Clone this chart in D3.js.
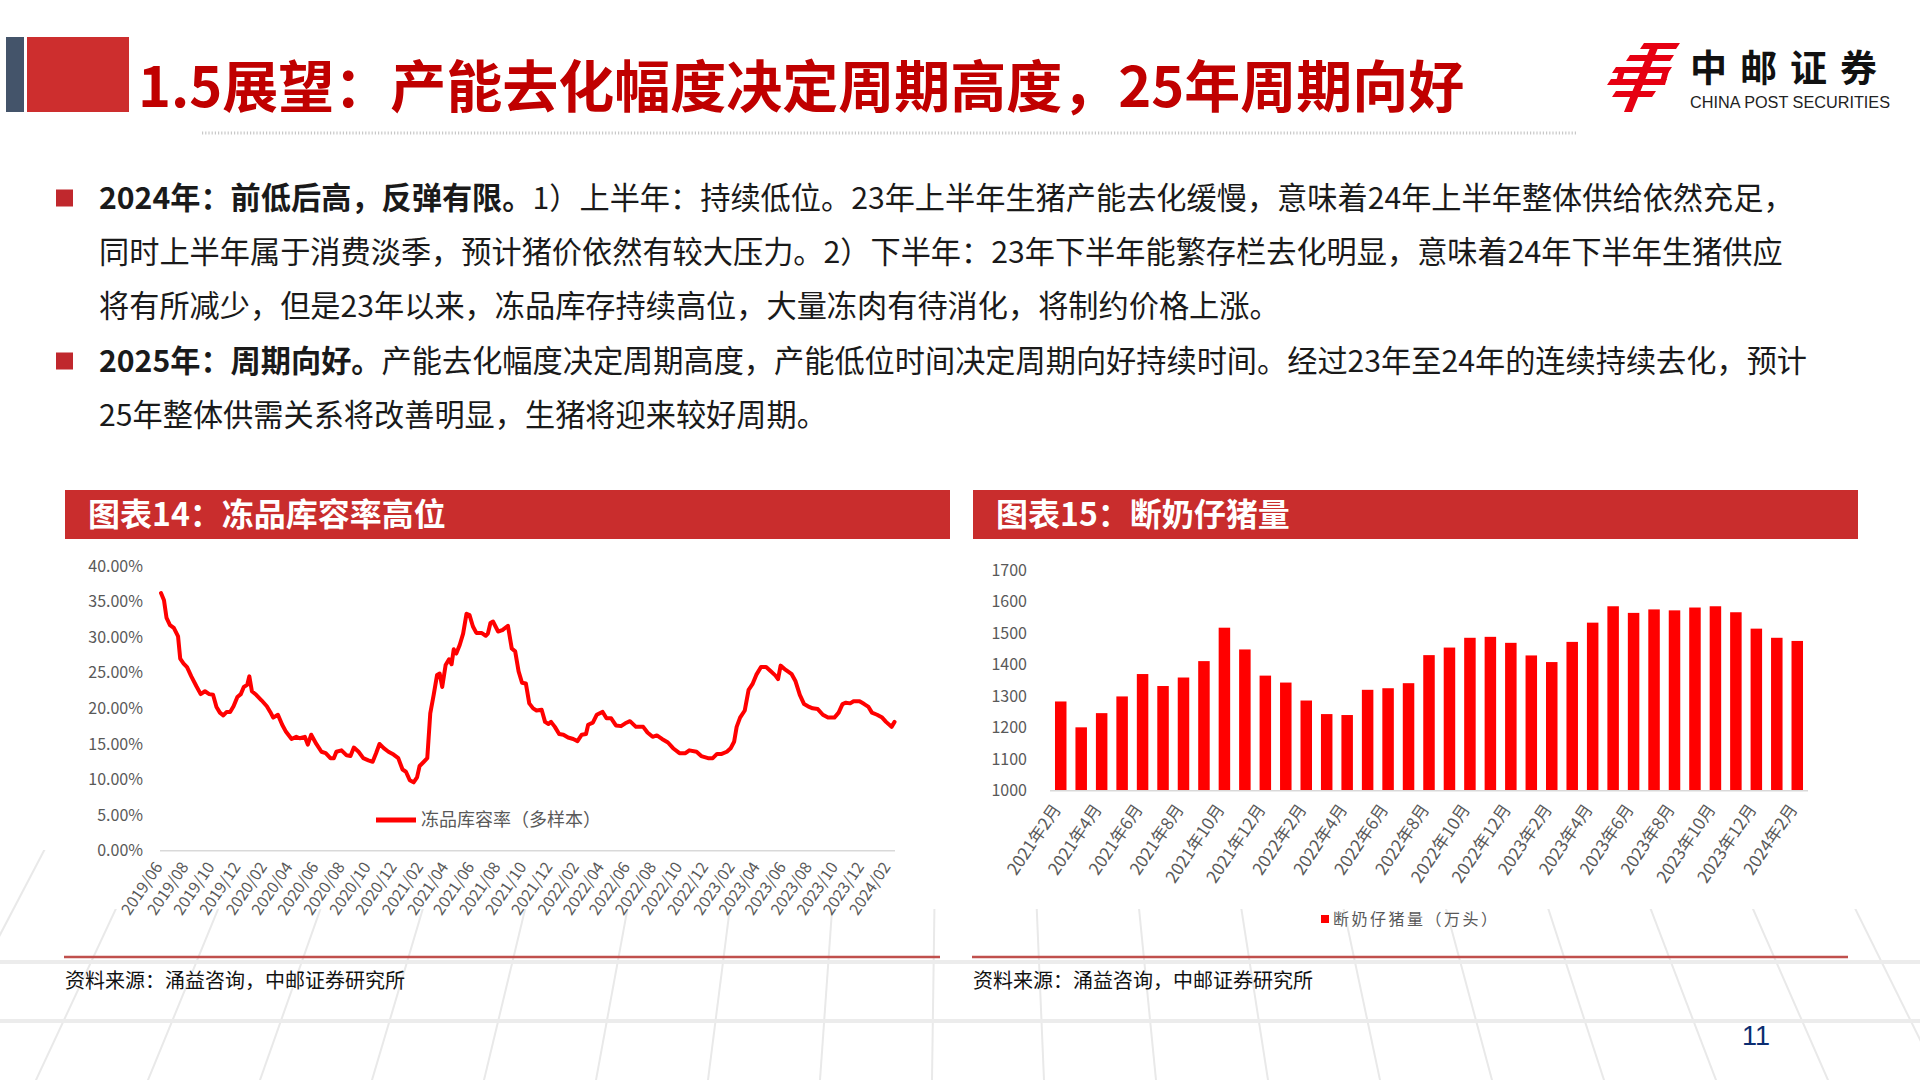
<!DOCTYPE html>
<html><head><meta charset="utf-8">
<script src="https://cdn.jsdelivr.net/npm/d3@7"></script>
<style>
html,body{margin:0;padding:0;background:#fff;}
svg{display:block;font-family:"Noto Sans CJK SC","Noto Sans",sans-serif;}
</style></head>
<body>
<svg id="c" width="1920" height="1080"></svg>
<script>
// ---------------- DATA ----------------
const pageTitle = "1.5展望：产能去化幅度决定周期高度，25年周期向好";
const bodyLines = [
  [["2024年：前低后高，反弹有限。", true], ["1）上半年：持续低位。23年上半年生猪产能去化缓慢，意味着24年上半年整体供给依然充足，", false]],
  [["同时上半年属于消费淡季，预计猪价依然有较大压力。2）下半年：23年下半年能繁存栏去化明显，意味着24年下半年生猪供应", false]],
  [["将有所减少，但是23年以来，冻品库存持续高位，大量冻肉有待消化，将制约价格上涨。", false]],
  [["2025年：周期向好。", true], ["产能去化幅度决定周期高度，产能低位时间决定周期向好持续时间。经过23年至24年的连续持续去化，预计", false]],
  [["25年整体供需关系将改善明显，生猪将迎来较好周期。", false]]
];
const bulletLines = [0, 3];

const chart1Title = "图表14：冻品库容率高位";
const chart1Legend = "冻品库容率（多样本）";
const lineDates = ["2019-06-01","2019-06-08","2019-06-14","2019-06-22","2019-07-01","2019-07-11","2019-07-16","2019-07-24","2019-08-01","2019-08-11","2019-08-23","2019-09-02","2019-09-12","2019-09-22","2019-10-01","2019-10-09","2019-10-17","2019-10-25","2019-11-02","2019-11-10","2019-11-18","2019-11-27","2019-12-05","2019-12-12","2019-12-20","2019-12-25","2019-12-31","2020-01-10","2020-01-23","2020-02-04","2020-02-12","2020-02-19","2020-03-01","2020-03-11","2020-03-20","2020-04-02","2020-04-13","2020-04-21","2020-05-03","2020-05-10","2020-05-18","2020-05-30","2020-06-11","2020-06-21","2020-07-02","2020-07-10","2020-07-16","2020-07-28","2020-08-09","2020-08-18","2020-08-26","2020-09-06","2020-09-17","2020-09-29","2020-10-09","2020-10-17","2020-10-25","2020-11-04","2020-11-15","2020-11-27","2020-12-08","2020-12-18","2020-12-26","2021-01-04","2021-01-13","2021-01-21","2021-01-27","2021-02-06","2021-02-14","2021-02-21","2021-03-01","2021-03-09","2021-03-15","2021-03-21","2021-03-29","2021-04-06","2021-04-12","2021-04-17","2021-04-23","2021-05-01","2021-05-09","2021-05-17","2021-05-24","2021-06-01","2021-06-09","2021-06-21","2021-07-01","2021-07-06","2021-07-12","2021-07-18","2021-07-30","2021-08-09","2021-08-22","2021-08-31","2021-09-08","2021-09-16","2021-09-24","2021-10-03","2021-10-11","2021-10-20","2021-10-28","2021-11-09","2021-11-17","2021-11-25","2021-12-01","2021-12-10","2021-12-20","2021-12-30","2022-01-10","2022-01-22","2022-02-01","2022-02-11","2022-02-21","2022-02-26","2022-03-09","2022-03-18","2022-04-01","2022-04-10","2022-04-21","2022-05-02","2022-05-14","2022-05-24","2022-06-04","2022-06-18","2022-07-05","2022-07-15","2022-07-27","2022-08-06","2022-08-18","2022-09-01","2022-09-13","2022-09-28","2022-10-12","2022-10-21","2022-11-07","2022-11-18","2022-12-04","2022-12-15","2022-12-25","2023-01-05","2023-01-17","2023-01-26","2023-02-03","2023-02-09","2023-02-17","2023-02-28","2023-03-09","2023-03-18","2023-03-27","2023-04-07","2023-04-19","2023-04-30","2023-05-11","2023-05-17","2023-05-23","2023-06-04","2023-06-18","2023-06-27","2023-07-07","2023-07-17","2023-07-29","2023-08-06","2023-08-18","2023-08-30","2023-09-11","2023-09-26","2023-10-06","2023-10-15","2023-10-23","2023-11-02","2023-11-10","2023-11-24","2023-12-05","2023-12-15","2023-12-23","2024-01-04","2024-01-16","2024-01-25","2024-02-07","2024-02-14"];
const lineValues = [36.2,35.2,32.7,31.7,31.3,30.1,27.0,26.3,25.8,24.5,23.1,22.0,22.4,22.0,21.9,20.2,19.4,19.0,19.5,19.5,20.3,21.6,22.0,23.0,23.3,24.5,22.4,21.9,21.1,20.3,19.5,18.7,19.1,17.7,16.7,15.7,16.0,15.8,16.0,14.9,16.3,15.0,13.9,13.7,13.0,13.0,13.9,14.1,13.4,13.3,14.5,13.9,13.0,12.7,12.5,13.7,15.0,14.4,13.9,13.5,13.0,11.4,11.1,9.9,9.6,10.3,11.9,12.5,13.0,19.3,21.9,24.7,24.9,23.0,26.1,26.9,26.2,28.3,27.7,28.9,30.5,33.3,33.1,31.5,30.6,30.6,30.2,30.5,32.0,32.2,30.8,31.0,31.6,28.4,28.0,25.2,23.6,23.5,20.7,20.0,19.7,19.8,18.1,17.8,18.1,17.4,16.4,16.3,15.9,15.7,15.4,16.3,16.4,17.7,18.0,19.1,19.5,18.6,18.6,17.6,17.5,17.9,18.2,17.4,17.4,16.6,16.0,16.2,15.7,15.2,14.4,13.7,13.7,14.1,13.9,13.3,13.0,13.0,13.6,13.6,13.9,14.4,15.3,17.4,18.7,19.7,22.6,23.4,24.7,25.8,25.8,25.2,24.6,24.1,26.0,25.4,24.8,23.8,21.9,20.6,20.2,20.0,19.9,19.1,18.7,18.7,19.4,20.6,20.8,20.7,21.0,21.0,20.6,20.2,19.4,19.1,18.7,18.1,17.4,18.1];
const line1YTicks = [0,5,10,15,20,25,30,35,40];
const line1XTickMonths = ["2019-06","2019-08","2019-10","2019-12","2020-02","2020-04","2020-06","2020-08","2020-10","2020-12","2021-02","2021-04","2021-06","2021-08","2021-10","2021-12","2022-02","2022-04","2022-06","2022-08","2022-10","2022-12","2023-02","2023-04","2023-06","2023-08","2023-10","2023-12","2024-02"];

const chart2Title = "图表15：断奶仔猪量";
const chart2Legend = "断奶仔猪量（万头）";
const barMonths = ["2021年2月","2021年3月","2021年4月","2021年5月","2021年6月","2021年7月","2021年8月","2021年9月","2021年10月","2021年11月","2021年12月","2022年1月","2022年2月","2022年3月","2022年4月","2022年5月","2022年6月","2022年7月","2022年8月","2022年9月","2022年10月","2022年11月","2022年12月","2023年1月","2023年2月","2023年3月","2023年4月","2023年5月","2023年6月","2023年7月","2023年8月","2023年9月","2023年10月","2023年11月","2023年12月","2024年1月","2024年2月"];
const barValues = [1283,1201,1246,1299,1370,1332,1359,1411,1517,1448,1365,1343,1286,1243,1240,1320,1325,1341,1430,1454,1485,1488,1469,1429,1408,1472,1533,1585,1564,1575,1572,1581,1585,1566,1514,1485,1475];
const bar2YTicks = [1000,1100,1200,1300,1400,1500,1600,1700];

const sourceText = "资料来源：涌益咨询，中邮证券研究所";
const pageNumber = "11";

// ---------------- DRAW ----------------
const svg = d3.select("#c");
svg.append("rect").attr("width",1920).attr("height",1080).attr("fill","#fff");

// background perspective grid
const bg = svg.append("g");
bg.append("clipPath").attr("id","bgclip").append("rect").attr("x",0).attr("y",850).attr("width",1920).attr("height",230);
const bgl = bg.append("g").attr("clip-path","url(#bgclip)");
const vp = [960,-900];
d3.range(-8, 27).forEach(i => {
  const bx = -300 + i*112;
  bgl.append("line").attr("x1",vp[0]).attr("y1",vp[1]).attr("x2",bx + (bx-vp[0])*0.3).attr("y2",1080 + (1080-vp[1])*0.3)
    .attr("stroke","#E9E9E9").attr("stroke-width",2);
});
[962,1021].forEach(y => bgl.append("line").attr("x1",0).attr("x2",1920).attr("y1",y).attr("y2",y).attr("stroke","#ECECEC").attr("stroke-width",4));

// header
svg.append("rect").attr("x",6).attr("y",37).attr("width",18).attr("height",75).attr("fill","#44546A");
svg.append("rect").attr("x",27).attr("y",37).attr("width",102).attr("height",75).attr("fill","#CD2E2E");
svg.append("text").attr("x",138).attr("y",107).attr("font-size",56).attr("font-weight",700).attr("fill","#C00000").text(pageTitle);
svg.append("line").attr("x1",202).attr("x2",1577).attr("y1",133).attr("y2",133).attr("stroke","#C8C8C8").attr("stroke-width",3).attr("stroke-dasharray","1.2,2");

// logo
const logo = svg.append("g").attr("fill","#E60012");
const bars = [[1640,43,36,6],[1626,55,44,6],[1612,67,56,6],[1607,79,56,6],[1612,91,40,6]];
bars.forEach(([x,y,w,h]) => {
  logo.append("path").attr("d",`M${x+4},${y} L${x+w+4},${y} L${x+w},${y+h} L${x},${y+h} Z`);
});
logo.append("path").attr("d","M1652,43 L1660,43 L1632,112 L1624,112 Z");
logo.append("path").attr("d","M1620,67 L1626,67 L1621,85 L1615,85 Z");
logo.append("path").attr("d","M1664,67 L1670,67 L1665,85 L1659,85 Z");
svg.append("text").attr("x",1690).attr("y",82).attr("font-size",37).attr("font-weight",700).attr("fill","#111").attr("letter-spacing",13).text("中邮证券");
svg.append("text").attr("x",1690).attr("y",108).attr("font-size",16).attr("fill","#222").attr("font-family","Liberation Sans, Arial, sans-serif")
  .attr("textLength",200).attr("lengthAdjust","spacingAndGlyphs").text("CHINA POST SECURITIES");

// body text
const lineCenters = [198,252,306,361,415];
bulletLines.forEach(i => svg.append("rect").attr("x",56).attr("y",lineCenters[i]-8.5).attr("width",17).attr("height",17).attr("fill","#C0282D"));
bodyLines.forEach((segs,i) => {
  const t = svg.append("text").attr("x",99).attr("y",lineCenters[i]+11).attr("font-size",30.2).attr("fill","#1a1a1a");
  segs.forEach(([s,b]) => t.append("tspan").attr("font-weight", b?700:400).text(s));
});

// chart panels
function panel(x0, title) {
  svg.append("rect").attr("x",x0).attr("y",539).attr("width",885).attr("height",370).attr("fill","#fff");
  svg.append("rect").attr("x",x0).attr("y",490).attr("width",885).attr("height",49).attr("fill","#C92D2D");
  svg.append("text").attr("x",x0+23).attr("y",526).attr("font-size",32).attr("font-weight",700).attr("fill","#fff").text(title);
  svg.append("line").attr("x1",x0-1).attr("x2",x0+875).attr("y1",957).attr("y2",957).attr("stroke","#C0504D").attr("stroke-width",2.5);
  svg.append("text").attr("x",x0).attr("y",988).attr("font-size",20).attr("fill","#111").text(sourceText);
}
panel(65, chart1Title);
panel(973, chart2Title);

// ---- chart 1: line ----
const parse = d3.timeParse("%Y-%m-%d");
const lineData = lineDates.map((d,i) => ({date: parse(d), value: lineValues[i]}));
const x1 = d3.scaleTime().domain([parse("2019-06-01"), parse("2024-02-01")]).range([161, 889]);
const y1 = d3.scaleLinear().domain([0,40]).range([850.7, 566]);
const g1 = svg.append("g");
const yAx1 = g1.append("g").attr("transform","translate(151,0)")
  .call(d3.axisLeft(y1).tickValues(line1YTicks).tickSize(0).tickPadding(8).tickFormat(d => d.toFixed(2)+"%"));
yAx1.select(".domain").remove();
yAx1.selectAll("text").attr("font-size",16).attr("fill","#595959").attr("font-family","Noto Sans CJK SC, sans-serif");
const tickDates1 = line1XTickMonths.map(m => parse(m+"-01"));
const xAx1 = g1.append("g").attr("transform","translate(0,850.7)")
  .call(d3.axisBottom(x1).tickValues(tickDates1).tickSize(0).tickFormat(d3.timeFormat("%Y/%m")));
xAx1.select(".domain").remove();
xAx1.selectAll("text").attr("font-size",16).attr("fill","#595959").attr("font-family","Noto Sans CJK SC, sans-serif")
  .attr("text-anchor","end").attr("x",0).attr("y",0).attr("dy","0.35em").attr("transform","translate(-3,13) rotate(-56)");
g1.append("line").attr("x1",160).attr("x2",895).attr("y1",850.7).attr("y2",850.7).attr("stroke","#D9D9D9").attr("stroke-width",1.5);
g1.append("path").datum(lineData).attr("fill","none").attr("stroke","#FF0000").attr("stroke-width",4).attr("stroke-linejoin","round").attr("stroke-linecap","round")
  .attr("d", d3.line().x(d => x1(d.date)).y(d => y1(d.value)));
g1.append("line").attr("x1",376).attr("x2",416).attr("y1",820).attr("y2",820).attr("stroke","#FF0000").attr("stroke-width",5);
g1.append("text").attr("x",421).attr("y",820).attr("dy","0.35em").attr("font-size",18).attr("fill","#595959").text(chart1Legend);

// ---- chart 2: bars ----
const x2 = d3.scaleBand().domain(barMonths).range([1050,1808]).paddingInner(0.438).paddingOuter(0.244);
const y2 = d3.scaleLinear().domain([1000,1700]).range([790.7, 570]);
const g2 = svg.append("g");
const yAx2 = g2.append("g").attr("transform","translate(1035,0)")
  .call(d3.axisLeft(y2).tickValues(bar2YTicks).tickSize(0).tickPadding(8).tickFormat(d3.format("d")));
yAx2.select(".domain").remove();
yAx2.selectAll("text").attr("font-size",16).attr("fill","#595959").attr("font-family","Noto Sans CJK SC, sans-serif");
g2.selectAll("rect.bar").data(barMonths).join("rect").attr("class","bar")
  .attr("x", d => x2(d)).attr("width", x2.bandwidth())
  .attr("y", (d,i) => y2(barValues[i])).attr("height", (d,i) => y2(1000) - y2(barValues[i]))
  .attr("fill","#FF0000");
const xAx2 = g2.append("g").attr("transform","translate(0,790.7)")
  .call(d3.axisBottom(x2).tickValues(barMonths.filter((d,i) => i%2===0)).tickSize(0));
xAx2.select(".domain").remove();
xAx2.selectAll("text").attr("font-size",17).attr("fill","#595959").attr("font-family","Noto Sans CJK SC, sans-serif")
  .attr("text-anchor","end").attr("x",0).attr("y",0).attr("dy","0.35em").attr("transform","translate(-4,15) rotate(-56)");
g2.append("line").attr("x1",1050).attr("x2",1808).attr("y1",790.7).attr("y2",790.7).attr("stroke","#D9D9D9").attr("stroke-width",1.5);
g2.append("rect").attr("x",1321).attr("y",915).attr("width",8).attr("height",8).attr("fill","#FF0000");
g2.append("text").attr("x",1333).attr("y",919).attr("dy","0.35em").attr("font-size",16).attr("letter-spacing",2.5).attr("fill","#595959").text(chart2Legend);

// page number
svg.append("text").attr("x",1742).attr("y",1045).attr("font-size",27).attr("fill","#0B2D71").attr("font-family","Liberation Sans, Arial, sans-serif").text(pageNumber);
</script>
</body></html>
